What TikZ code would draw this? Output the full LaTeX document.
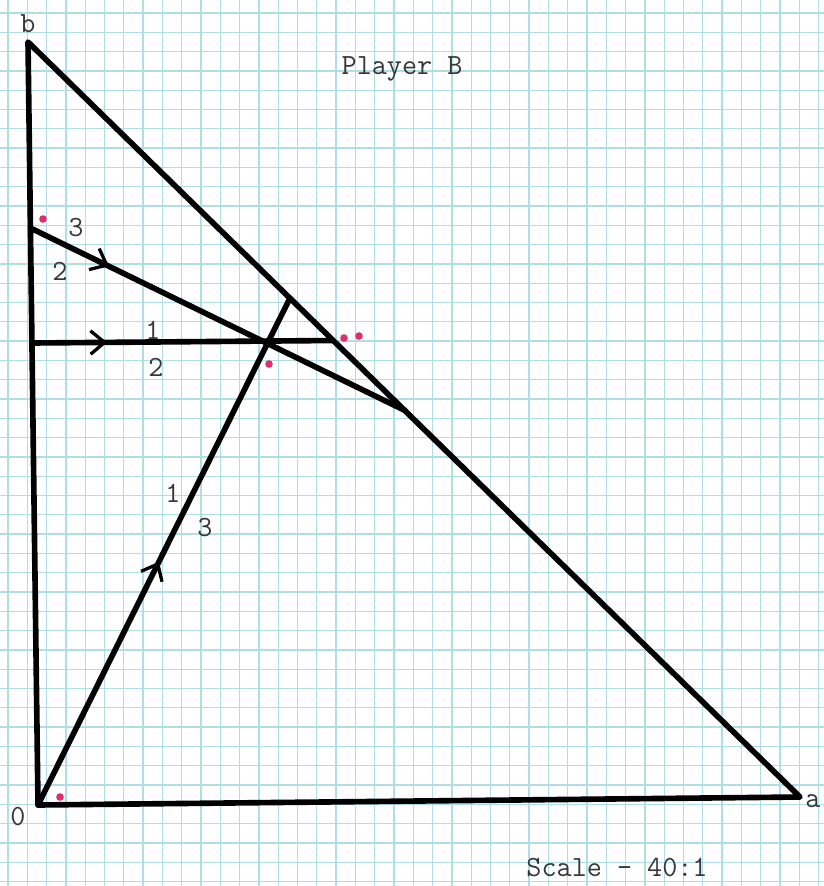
\documentclass[tikz,border=0pt]{standalone}
\usetikzlibrary{arrows.meta,decorations.markings}

\definecolor{gridblue}{RGB}{175,222,232}
\definecolor{inkpink}{RGB}{225,45,105}
\definecolor{typegray}{RGB}{55,55,55}

\tikzset{
  gridline/.style={gridblue, line width=1.1pt},
  edge/.style={line width=4.8pt, line cap=round, line join=round},
  midarrow/.style={postaction={decorate,decoration={markings,
      mark=at position #1 with {\arrow{Straight Barb[length=12pt,width=20pt,line width=2.8pt]}}}}},
  typed/.style={font=\ttfamily\fontsize{25}{25}\selectfont, text=typegray, inner sep=0pt},
  dot/.style={circle, fill=inkpink, inner sep=0pt, minimum size=6.5pt},
}

\begin{document}
\begin{tikzpicture}[x=0.03cm, y=-0.03cm]
  % Paper
  \fill[white] (0,0) rectangle (824,886);
  \useasboundingbox (0,0) rectangle (824,886);
  \foreach \i in {0,...,42}
    \draw[gridline] ({8+19.3*\i},0) -- ++(0,886);
  \foreach \j in {0,...,45}
    \draw[gridline] (0,{13+19.3*\j}) -- ++(824,0);

  % Corners of the triangle
  \coordinate (O) at (38,805);
  \coordinate (A) at (800,797);
  \coordinate (B) at (28,42);

  % Ends of the inner lines
  \coordinate (P) at (30.4,228);
  \coordinate (Q) at (405,410.5);
  \coordinate (H1) at (31.9,343);
  \coordinate (H2) at (333,340.5);
  \coordinate (R) at (290,298);

  \draw[edge] (B) -- (A) -- (O) -- cycle;
  \draw[edge, midarrow=0.21] (P) -- (Q);
  \draw[edge, midarrow=0.25] (H1) -- (H2);
  \draw[edge, midarrow=0.48] (O) -- (R);

  % Corner labels
  \node[typed] (lb) at (28,24) {b};
  \node[typed] (la) at (813,801) {a};
  \node[typed] (lo) at (18,817) {0};

  % Fractions along the lines
  \node[typed] (t1) at (76,228) {3};
  \node[typed] (t2) at (60,271) {2};
  \node[typed] (t3) at (153,330) {1};
  \node[typed] (t4) at (156,367) {2};
  \node[typed] (t5) at (173,493) {1};
  \node[typed] (t6) at (205,528) {3};

  % Pink marks
  \node[dot] (d1) at (43,219) {};
  \node[dot] (d2) at (60,797) {};
  \node[dot] (d3) at (269,364) {};
  \node[dot] (d4) at (344,338) {};
  \node[dot] (d5) at (359,336) {};

  \node[typed] (title) at (402,69) {Player B};
  \node[typed] (scale) at (617,868) {Scale - 40:1};
\end{tikzpicture}
\end{document}
